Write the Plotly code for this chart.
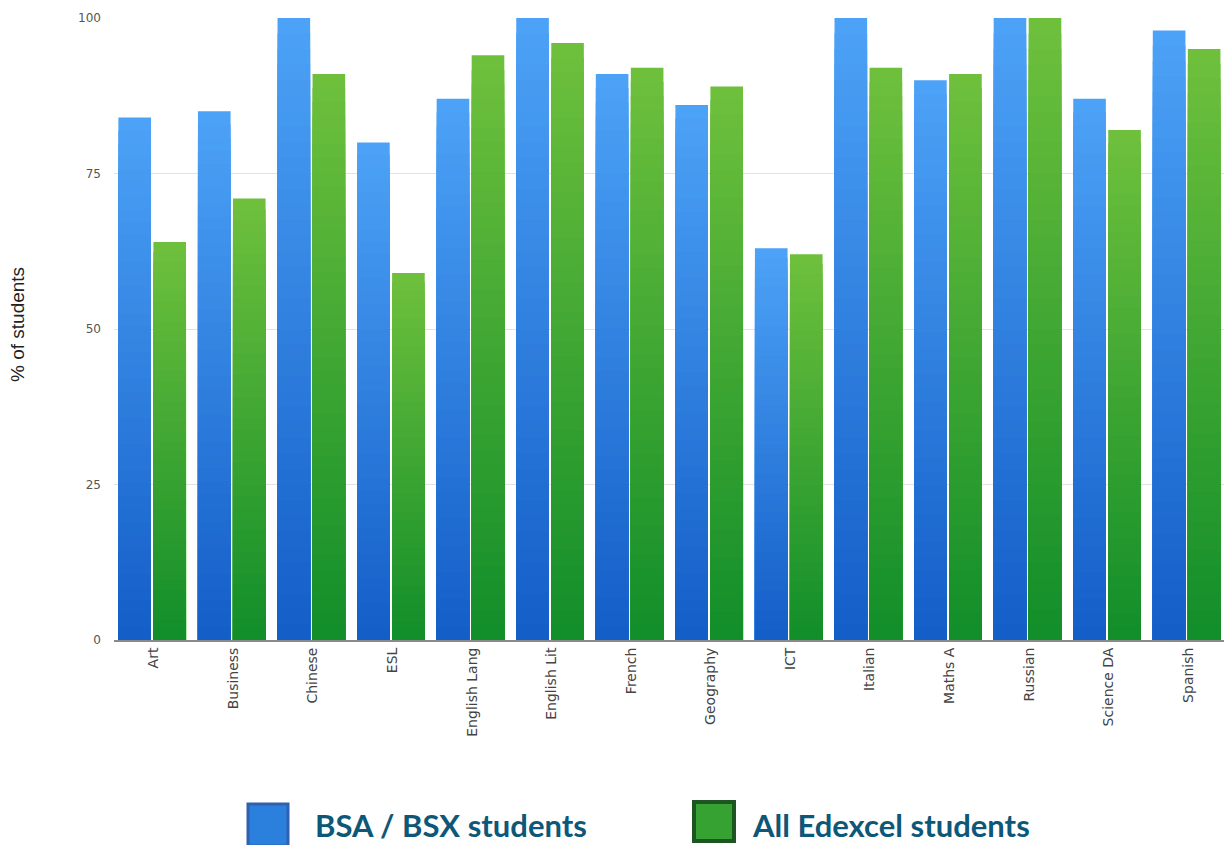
import plotly.graph_objects as go

subjects = ["Art", "Business", "Chinese", "ESL", "English Lang", "English Lit", "French",
            "Geography", "ICT", "Italian", "Maths A", "Russian", "Science DA", "Spanish"]
bsa_values = [84, 85, 100, 80, 87, 100, 91, 86, 63, 100, 90, 100, 87, 98]
edexcel_values = [64, 71, 91, 59, 94, 96, 92, 89, 62, 92, 91, 100, 82, 95]
series_names = ["BSA / BSX students", "All Edexcel students"]
y_ticks = [0, 25, 50, 75, 100]

blue_top, blue_bottom = (76, 162, 246), (20, 94, 200)
green_top, green_bottom = (110, 192, 60), (18, 142, 42)

LAYERS = 40

# page offset (browser body margin) compensation
W, H = 1224, 837
L, R, T, B = 106, 4, 10, 205
PW, PH = W - L - R, H - T - B


def px(vx):
    return (vx - 8 - L) / PW


def py(vy):
    return (H - B - (vy - 8)) / PH


def mix(c1, c2, t):
    return "rgb(%d,%d,%d)" % tuple(round(a + (b - a) * t) for a, b in zip(c1, c2))


fig = go.Figure()
for values, top, bottom, offset in [(bsa_values, blue_top, blue_bottom, -0.445),
                                    (edexcel_values, green_top, green_bottom, -0.005)]:
    for k in range(LAYERS):
        frac = (LAYERS - k) / LAYERS
        fig.add_trace(go.Bar(
            x=subjects,
            y=[v * frac for v in values],
            offset=offset,
            width=0.41,
            marker=dict(color=mix(top, bottom, k / (LAYERS - 1)), line=dict(width=0)),
            showlegend=False,
            hoverinfo="skip",
        ))

fig.update_layout(
    width=W, height=H,
    barmode="overlay",
    paper_bgcolor="white", plot_bgcolor="white",
    margin=dict(l=L, r=R, t=T, b=B),
    showlegend=False,
    xaxis=dict(
        tickangle=-90,
        tickfont=dict(family="DejaVu Sans", size=14, color="#444"),
        showline=True, linecolor="#8a8a8a", linewidth=2,
        showgrid=False, ticks="",
    ),
    yaxis=dict(
        range=[0, 100],
        tickvals=y_ticks,
        tickfont=dict(family="DejaVu Sans", size=12, color="#555"),
        gridcolor="#e2e2e2", gridwidth=1,
        zeroline=False, showline=False,
        ticks="", ticklabelstandoff=12,
    ),
    annotations=[
        dict(text="% of students", xref="paper", yref="paper", x=px(18), y=py(325),
             xanchor="center", yanchor="middle", textangle=-90, showarrow=False,
             font=dict(family="Liberation Sans, Arial", size=19, color="#222")),
        dict(text="<b>" + series_names[0] + "</b>", xref="paper", yref="paper",
             x=px(313), y=py(825), xanchor="left", yanchor="middle",
             showarrow=False, font=dict(family="Lato", size=31, color="#0d5878")),
        dict(text="<b>" + series_names[1] + "</b>", xref="paper", yref="paper",
             x=px(750), y=py(825), xanchor="left", yanchor="middle",
             showarrow=False, font=dict(family="Lato", size=31, color="#0d5878")),
    ],
    shapes=[
        dict(type="rect", xref="paper", yref="paper",
             x0=px(248), x1=px(288), y0=py(804), y1=py(846),
             fillcolor="#2a80dc", line=dict(color="#3260b0", width=3)),
        dict(type="rect", xref="paper", yref="paper",
             x0=px(694), x1=px(734), y0=py(802), y1=py(841),
             fillcolor="#36a232", line=dict(color="#1f5522", width=4)),
    ],
)

fig.write_html("out.html")
